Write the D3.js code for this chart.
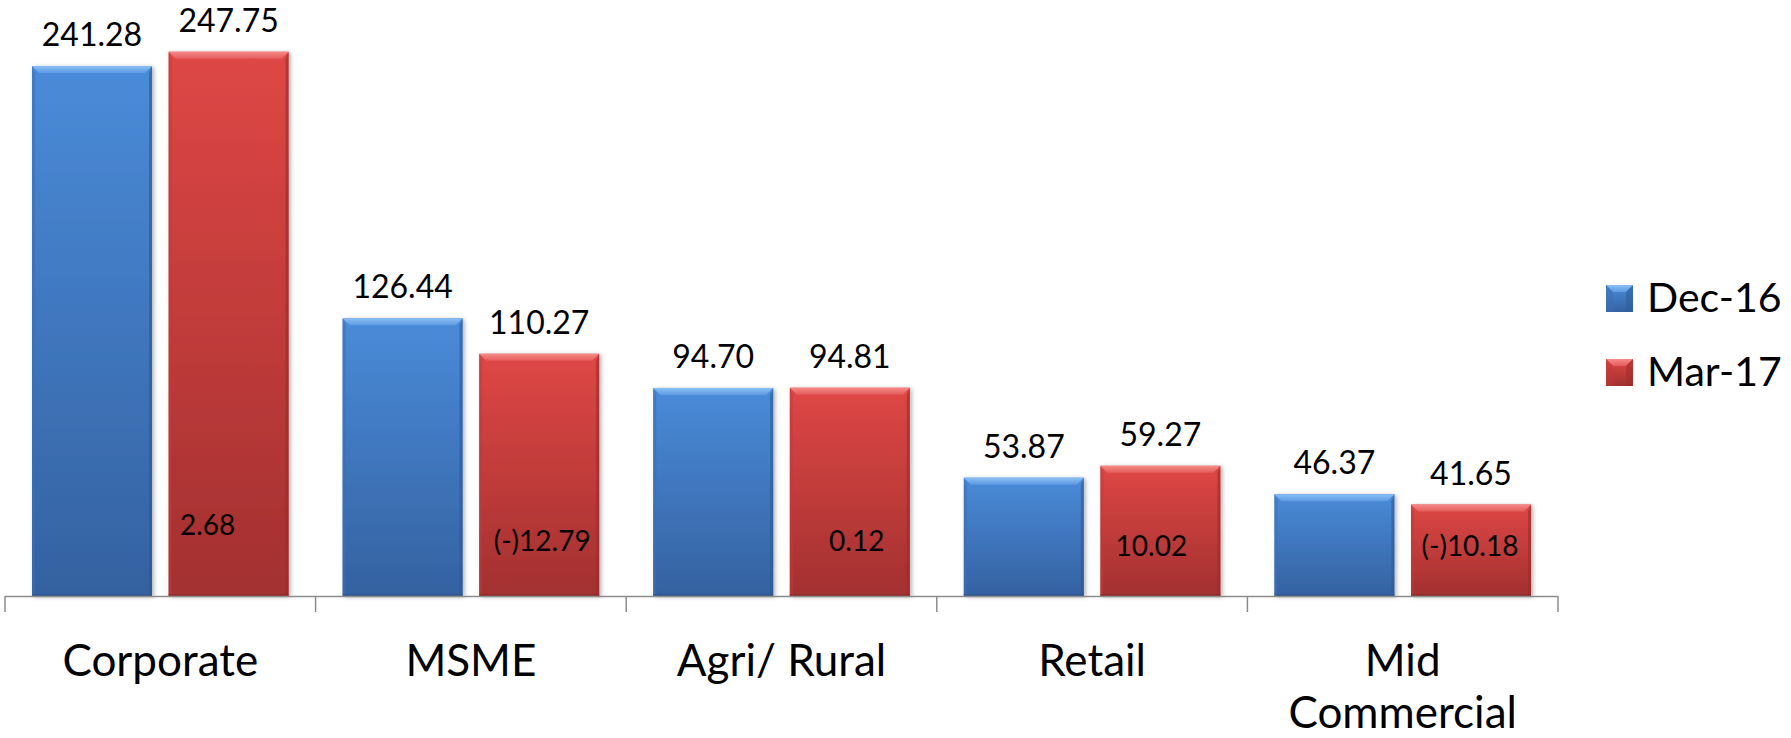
<!DOCTYPE html>
<html>
<head>
<meta charset="utf-8">
<script src="https://cdn.jsdelivr.net/npm/d3@7"></script>
<style>
  html, body { margin: 0; padding: 0; background: #ffffff; }
  svg { display: block; }
  text { font-family: Lato, "Open Sans", "Liberation Sans", sans-serif; fill: #000; }
</style>
</head>
<body>
<svg id="chart" width="1791" height="738"></svg>
<script>
// Segment-wise values, Dec-16 vs Mar-17
const categories = ["Corporate", "MSME", "Agri/ Rural", "Retail", "Mid Commercial"];
const seriesNames = ["Dec-16", "Mar-17"];
const dec16 = [241.28, 126.44, 94.70, 53.87, 46.37];
const mar17 = [247.75, 110.27, 94.81, 59.27, 41.65];
// change notes written inside the Mar-17 bars
const changeNotes = ["2.68", "(-)12.79", "0.12", "10.02", "(-)10.18"];

// small placement nudges for the change notes (relative to bar centre / axis)
const noteNudge = [[-21, -61], [3, -45], [7, -45], [-9, -40], [-1, -40]];

const W = 1791, H = 738;
const plot = { left: 5, right: 1558, base: 596, top: 0 };

const svg = d3.select("#chart");
svg.append("rect").attr("width", W).attr("height", H).attr("fill", "#fff");

const defs = svg.append("defs");

const palette = {
  "Dec-16": { top: "#4a8bd9", bottom: "#3461a0", bevel: "#8cc0f4", bevel2: "#5d9ae2", side: "#3a6fb5", sideR: "#2c5a94", edge: "#2a5188" },
  "Mar-17": { top: "#de4745", bottom: "#a33030", bevel: "#f58a88", bevel2: "#e45c5a", side: "#bf3a38", sideR: "#992a29", edge: "#882524" }
};

Object.entries(palette).forEach(([name, c], i) => {
  const g = defs.append("linearGradient").attr("id", "body" + i)
    .attr("x1", 0).attr("y1", 0).attr("x2", 0).attr("y2", 1);
  g.append("stop").attr("offset", "0%").attr("stop-color", c.top);
  g.append("stop").attr("offset", "100%").attr("stop-color", c.bottom);
  const b = defs.append("linearGradient").attr("id", "bevel" + i)
    .attr("x1", 0).attr("y1", 0).attr("x2", 0).attr("y2", 1);
  b.append("stop").attr("offset", "0%").attr("stop-color", c.bevel);
  b.append("stop").attr("offset", "100%").attr("stop-color", c.bevel2);
});

const shadow = defs.append("filter").attr("id", "shadow")
  .attr("x", "-10%").attr("y", "-10%").attr("width", "130%").attr("height", "130%");
shadow.append("feDropShadow").attr("dx", 2).attr("dy", 1).attr("stdDeviation", 2)
  .attr("flood-color", "#000").attr("flood-opacity", 0.3);

const x0 = d3.scaleBand().domain(categories).range([plot.left, plot.right])
  .paddingInner(0).paddingOuter(0);
const x1 = d3.scaleBand().domain(seriesNames).range([0, x0.bandwidth()])
  .paddingInner(0.1215).paddingOuter(0.1977);
const y = d3.scaleLinear().domain([0, 271.3]).range([plot.base, plot.top]);

const rows = categories.map((c, i) => ({ cat: c, i, values: [
  { s: "Dec-16", v: dec16[i], k: 0 },
  { s: "Mar-17", v: mar17[i], k: 1 }
]}));

// bars with a bevelled top edge
const groups = svg.append("g").selectAll("g").data(rows).join("g")
  .attr("transform", d => `translate(${x0(d.cat)},0)`);

const bars = groups.selectAll("g.bar").data(d => d.values).join("g").attr("class", "bar");
const bev = 7;
bars.each(function(d) {
  const g = d3.select(this);
  const c = palette[d.s];
  const x = x1(d.s), w = x1.bandwidth();
  const t = y(d.v), b = y(0);
  g.append("rect").attr("x", x).attr("y", t).attr("width", w).attr("height", b - t)
    .attr("fill", `url(#body${d.k})`).attr("filter", "url(#shadow)");
  // left side facet
  g.append("path").attr("d", `M${x},${t}L${x + 3},${t + bev}L${x + 3},${b}L${x},${b}Z`)
    .attr("fill", c.side).attr("opacity", 0.55);
  // right side facet
  g.append("path").attr("d", `M${x + w},${t}L${x + w - 3},${t + bev}L${x + w - 3},${b}L${x + w},${b}Z`)
    .attr("fill", c.sideR).attr("opacity", 0.6);
  // top bevel
  g.append("path").attr("d", `M${x},${t}L${x + w},${t}L${x + w - bev},${t + bev}L${x + bev},${t + bev}Z`)
    .attr("fill", `url(#bevel${d.k})`);
  // bottom edge
  g.append("rect").attr("x", x).attr("y", b - 2).attr("width", w).attr("height", 2)
    .attr("fill", c.edge).attr("opacity", 0.6);
});

// value labels above bars
bars.append("text")
  .attr("x", d => x1(d.s) + x1.bandwidth() / 2)
  .attr("y", d => y(d.v) - 20)
  .attr("text-anchor", "middle")
  .attr("font-size", 32)
  .text(d => d.v.toFixed(2));

// change notes inside the Mar-17 bars
groups.append("text")
  .attr("x", d => x1("Mar-17") + x1.bandwidth() / 2 + noteNudge[d.i][0])
  .attr("y", d => y(0) + noteNudge[d.i][1])
  .attr("text-anchor", "middle")
  .attr("font-size", 28)
  .text(d => changeNotes[d.i]);

// category axis
const axis = svg.append("g");
axis.append("line").attr("x1", plot.left).attr("x2", plot.right)
  .attr("y1", plot.base + 0.5).attr("y2", plot.base + 0.5)
  .attr("stroke", "#8c8c8c").attr("stroke-width", 1.5);
const bounds = categories.map(c => x0(c)).concat([plot.right]);
axis.selectAll("line.tick").data(bounds).join("line").attr("class", "tick")
  .attr("x1", d => d).attr("x2", d => d)
  .attr("y1", plot.base).attr("y2", plot.base + 16)
  .attr("stroke", "#8c8c8c").attr("stroke-width", 1.5);

// category labels, wrapped when wider than the band
const labels = axis.selectAll("text.cat").data(categories).join("text").attr("class", "cat")
  .attr("x", d => x0(d) + x0.bandwidth() / 2)
  .attr("y", 676)
  .attr("text-anchor", "middle")
  .attr("font-size", 44);
labels.each(function(d) {
  const t = d3.select(this);
  const words = d.split(" ");
  t.text(d);
  if (this.getComputedTextLength() > x0.bandwidth() - 40 && words.length > 1) {
    t.text(null);
    words.forEach((w, k) => {
      t.append("tspan").attr("x", x0(d) + x0.bandwidth() / 2)
        .attr("dy", k === 0 ? 0 : 52).text(w);
    });
  }
});

// legend
const legend = svg.append("g").selectAll("g").data(seriesNames).join("g")
  .attr("transform", (d, i) => `translate(1606,${285 + i * 74})`);
legend.each(function(d, i) {
  const g = d3.select(this);
  const c = palette[d];
  g.append("rect").attr("width", 27).attr("height", 27).attr("fill", `url(#body${i})`);
  g.append("path").attr("d", "M0,0L27,0L20,7L7,7Z").attr("fill", `url(#bevel${i})`);
  g.append("path").attr("d", "M0,0L7,7L7,27L0,27Z").attr("fill", c.side).attr("opacity", 0.5);
  g.append("path").attr("d", "M27,0L20,7L20,27L27,27Z").attr("fill", c.sideR).attr("opacity", 0.5);
  g.append("text").attr("x", 41).attr("y", 27).attr("font-size", 41).text(d);
});
</script>
</body>
</html>
